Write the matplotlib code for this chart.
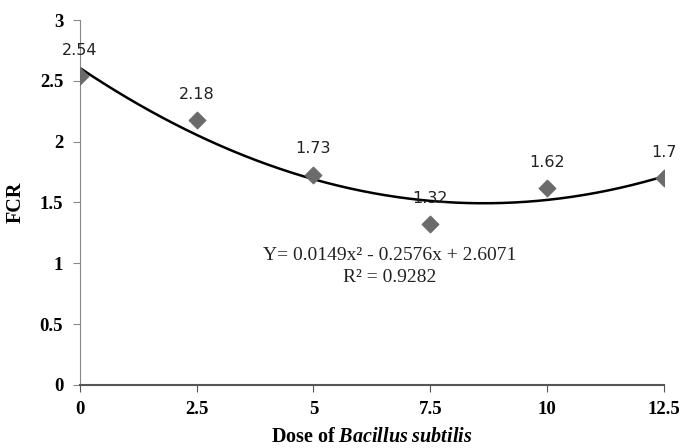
import numpy as np
import matplotlib
matplotlib.use("Agg")
import matplotlib.pyplot as plt

dose = [0, 2.5, 5, 7.5, 10, 12.5]
fcr = [2.54, 2.18, 1.73, 1.32, 1.62, 1.7]
labels = ["2.54", "2.18", "1.73", "1.32", "1.62", "1.7"]
coef = [0.0149, -0.2576, 2.6071]
xticks = [0, 2.5, 5, 7.5, 10, 12.5]
yticks = [0, 0.5, 1, 1.5, 2, 2.5, 3]

plt.rcParams['mathtext.fontset'] = 'custom'
plt.rcParams['mathtext.rm'] = 'Liberation Serif'
plt.rcParams['mathtext.bf'] = 'Liberation Serif:bold'
plt.rcParams['mathtext.bfit'] = 'Liberation Serif:bold:italic'
plt.rcParams['mathtext.it'] = 'Liberation Serif:italic'

fig = plt.figure(figsize=(6.88, 4.48), dpi=100)
ax = fig.add_axes([0.116, 0.141, 0.849, 0.814])

xs = np.linspace(0, 12.5, 200)
ax.plot(xs, np.polyval(coef, xs), color='black', lw=1.8, zorder=2)
ax.scatter(dose, fcr, marker='D', s=70, color='#6b6b6b', zorder=3)
for x, y, t in zip(dose, fcr, labels):
    ax.annotate(t, (x, y), xytext=(0, 13), textcoords='offset points', ha='center',
                va='bottom', fontsize=11.5, family='DejaVu Sans', color='#222222')

ax.text(6.64, 1.06, "Y= 0.0149x\u00b2 - 0.2576x + 2.6071", ha='center', va='center',
        fontsize=14, family='Liberation Serif', color='#222222')
ax.text(6.64, 0.88, "R\u00b2 = 0.9282", ha='center', va='center',
        fontsize=14, family='Liberation Serif', color='#222222')

ax.set_xlim(0, 12.5)
ax.set_ylim(0, 3)
ax.set_xticks(xticks)
ax.set_xticklabels([f"{v:g}" for v in xticks])
ax.set_yticks(yticks)
ax.set_yticklabels([f"{v:g}" for v in yticks])
for lab in ax.get_xticklabels() + ax.get_yticklabels():
    lab.set_family('Liberation Serif')
    lab.set_fontweight('bold')
    lab.set_fontsize(13.5)
ax.spines['top'].set_visible(False)
ax.spines['right'].set_visible(False)
ax.spines['left'].set_color('#888888')
ax.spines['bottom'].set_color('#555555')
ax.spines['bottom'].set_linewidth(1.5)
ax.tick_params(axis='y', direction='out', length=5, color='#888888', pad=7)
ax.tick_params(axis='x', direction='out', length=5, color='#555555', pad=7)
ax.set_ylabel("FCR", family='Liberation Serif', fontweight='bold', fontsize=14.5, labelpad=10)
ax.set_xlabel(r"$\mathbf{Dose\ of\ }\mathbfit{Bacillus\ subtilis}$", fontsize=14.5, labelpad=6)

fig.savefig("out.png", dpi=100)
